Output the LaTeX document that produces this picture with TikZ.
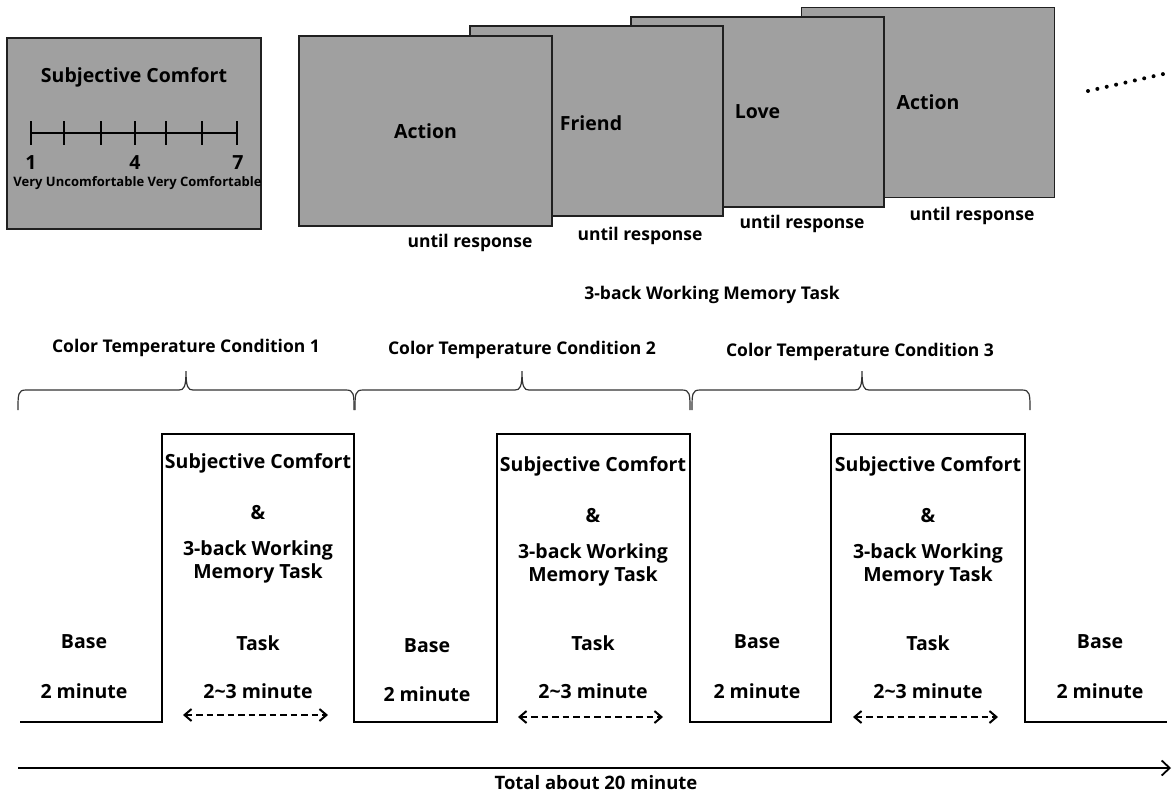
\documentclass[tikz,border=0pt]{standalone}
\usepackage{fontspec}
\setmainfont{Open Sans}
\usetikzlibrary{arrows.meta}
\definecolor{boxgray}{HTML}{A0A0A0}
\definecolor{edge}{HTML}{202020}
\tikzset{
  big/.style={font=\bfseries\fontsize{19.5}{22}\selectfont, inner sep=0pt},
  mid/.style={font=\bfseries\fontsize{17.5}{20}\selectfont, inner sep=0pt},
  tiny/.style={font=\bfseries\fontsize{13}{15}\selectfont, inner sep=0pt},
  wordbox/.style={draw=edge, line width=1.6pt, fill=boxgray, minimum width=253pt, minimum height=190pt, inner sep=0pt, font=\bfseries\fontsize{19.5}{22}\selectfont},
  bracepath/.style={draw=black!80, line width=1.2pt},
  steppath/.style={draw=black, line width=2pt, line join=miter},
  durarrow/.style={dash pattern=on 6.5pt off 4pt, line width=2pt, {Straight Barb[length=7pt,width=12pt]}-{Straight Barb[length=7pt,width=12pt]}},
  timearrow/.style={line width=1.8pt, -{Straight Barb[length=8pt,width=15pt]}},
}
\begin{document}
\begin{tikzpicture}[x=1pt,y=-1pt]
\useasboundingbox (0,0) rectangle (1172,796);

% Subjective comfort rating screen
\node[wordbox, minimum width=254pt, minimum height=191pt] (comfort) at (134,133.5) {};
\node[big] (ctitle) at (134,77) {Subjective Comfort};
\coordinate (sL) at (31,133);
\coordinate (sR) at (237,133);
\draw[line width=2pt] (sL) -- (sR);
\foreach \tx in {31,64,101,135,166,202,237}{
  \draw[line width=2pt] (\tx,121) -- (\tx,145);
}
\node[big] (n1) at (31,163) {1};
\node[big] (n4) at (135,163) {4};
\node[big] (n7) at (238,163) {7};
\node[tiny] (anchors) at (137.5,183) {Very Uncomfortable Very Comfortable};

% word screens (back to front)
\node[wordbox] (w4) at (928,102.5) {Action};
\node[wordbox] (w3) at (757.5,112) {Love};
\node[wordbox] (w2) at (596.5,121) {};
\node[big] (w2t) at (591,123) {Friend};
\node[wordbox] (w1) at (425.5,131) {Action};

\node[mid] (u1) at (470,243) {until response};
\node[mid] (u2) at (640,236) {until response};
\node[mid] (u3) at (802,224) {until response};
\node[mid] (u4) at (972,216) {until response};

\coordinate (d1) at (1088,91);
\coordinate (d2) at (1170,72.5);
\draw[line width=4pt, line cap=round, dash pattern=on 0pt off 9.6pt] (d1) -- (d2);

\node[mid] (nback) at (712,295) {3-back Working Memory Task};

% condition labels and braces
\node[mid] (c1) at (186,348) {Color Temperature Condition 1};
\node[mid] (c2) at (522,350) {Color Temperature Condition 2};
\node[mid] (c3) at (860,352) {Color Temperature Condition 3};

\foreach \a/\m/\b in {18/186/354, 355/522/690, 692/862/1030}{
  \draw[bracepath] (\a,410) .. controls (\a,394) and (\a,390) .. ({\a+8},390)
     -- ({\m-7},390) .. controls ({\m-2},390) and (\m,387) .. (\m,371)
     .. controls (\m,387) and ({\m+2},390) .. ({\m+7},390)
     -- ({\b-8},390) .. controls (\b,390) and (\b,394) .. (\b,410);
}

% step timeline
\draw[steppath] (20,722) -- (162,722) -- (162,434) -- (354,434) -- (354,722)
  -- (497,722) -- (497,434) -- (690,434) -- (690,722)
  -- (831,722) -- (831,434) -- (1025,434) -- (1025,722) -- (1167,722);

% base labels
\node[big] (b1) at (84,642) {Base};
\node[big] (b1m) at (84,691) {2 minute};
\node[big] (b2) at (427,646) {Base};
\node[big] (b2m) at (427,694) {2 minute};
\node[big] (b3) at (757,642) {Base};
\node[big] (b3m) at (757,691) {2 minute};
\node[big] (b4) at (1100,642) {Base};
\node[big] (b4m) at (1100,691) {2 minute};

% task blocks
\foreach \i/\cx/\dy in {1/258/0, 2/593/3, 3/928/3}{
  \node[big] (sc\i) at (\cx,{463+\dy}) {Subjective Comfort};
  \node[big] (amp\i) at (\cx,{513+\dy}) {\&};
  \node[big] (wm\i) at (\cx,{550+\dy}) {3-back Working};
  \node[big] (mt\i) at (\cx,{573+\dy}) {Memory Task};
  \node[big] (tk\i) at (\cx,643) {Task};
  \node[big] (tm\i) at (\cx,691) {2\textasciitilde3 minute};
  \coordinate (al\i) at ({\cx-75},{715+\dy/1.5});
  \coordinate (ar\i) at ({\cx+70},{715+\dy/1.5});
  \draw[durarrow] (al\i) -- (ar\i);
}

% total time arrow
\coordinate (t0) at (18,768);
\coordinate (t1) at (1171,768);
\draw[timearrow] (t0) -- (t1);
\node[big, font=\bfseries\fontsize{18.5}{21}\selectfont] (total) at (596,783) {Total about 20 minute};
\end{tikzpicture}
\end{document}
